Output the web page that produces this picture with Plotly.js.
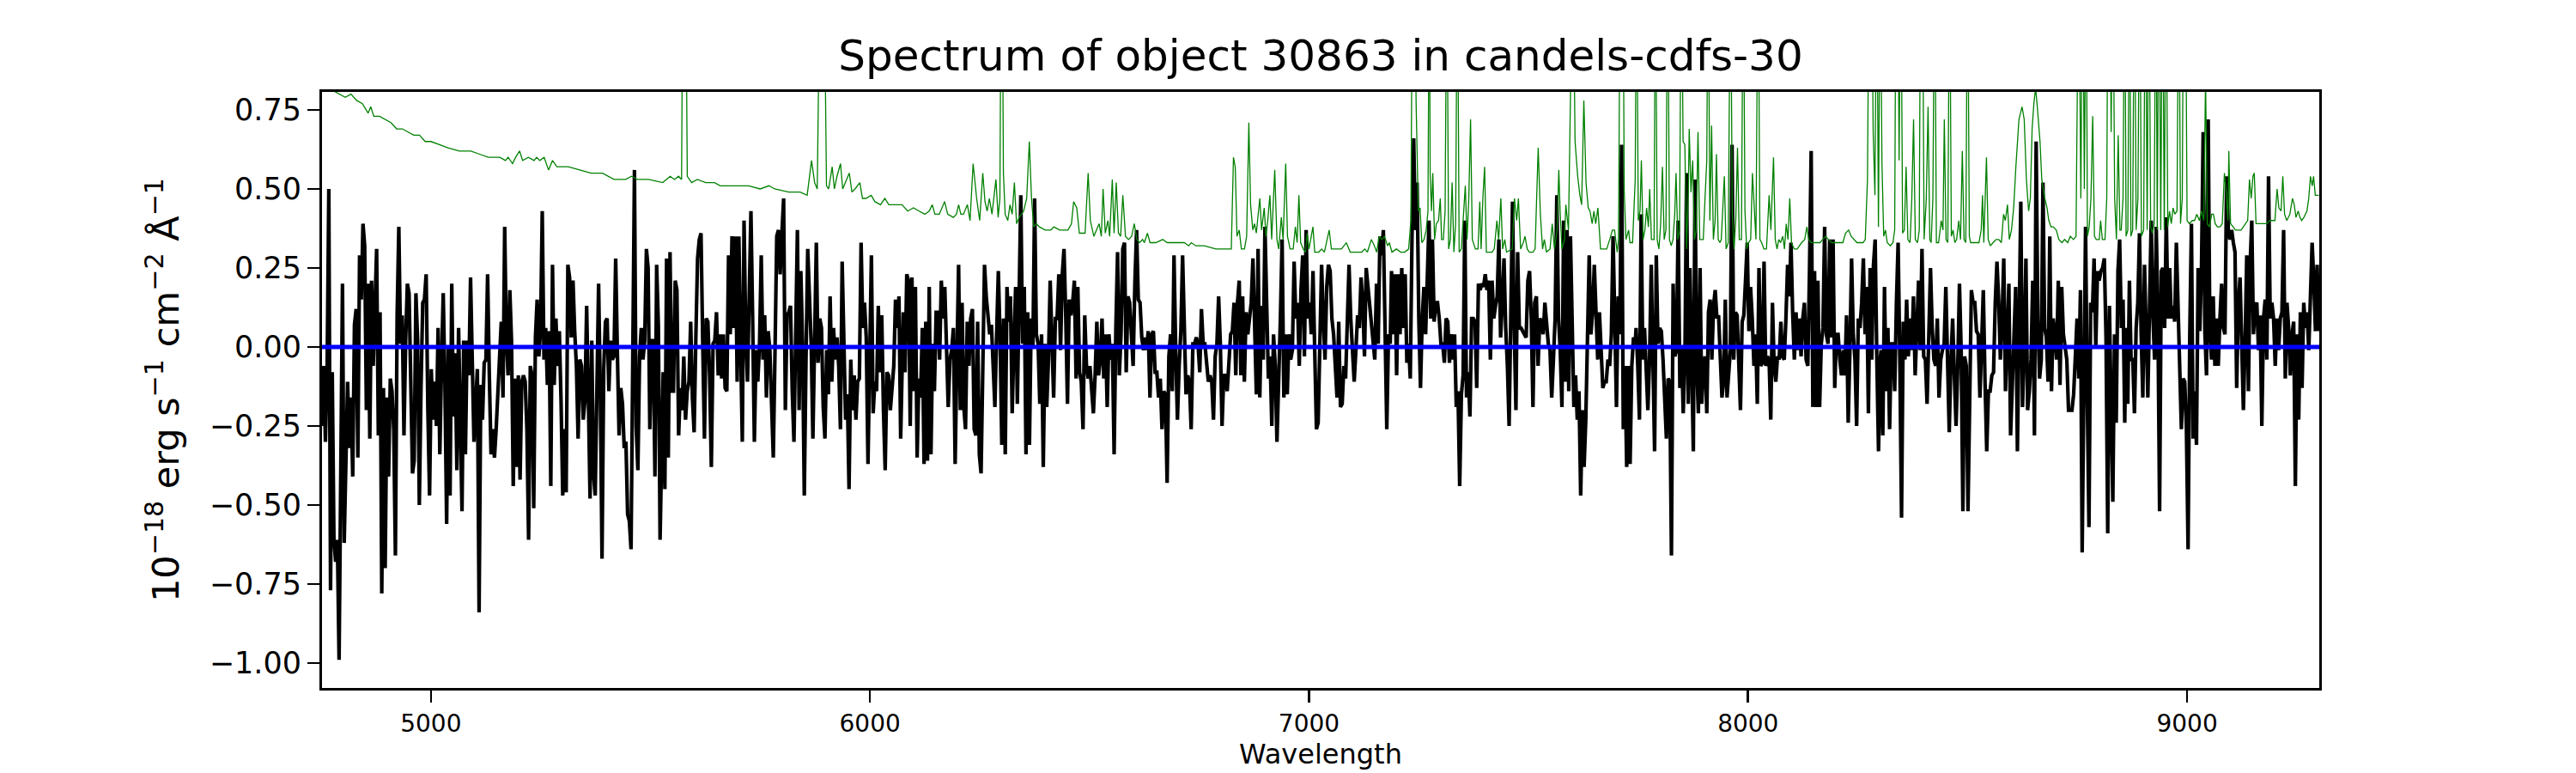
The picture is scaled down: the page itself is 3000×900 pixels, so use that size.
<!DOCTYPE html>
<html><head><meta charset="utf-8">
<script src="https://cdn.plot.ly/plotly-3.0.1.min.js"></script>
<style>html,body{margin:0;padding:0;background:#fff}</style>
</head><body>
<div id="chart" style="width:3000px;height:900px"></div>
<script>
// Flux spectrum (black) in eight wavelength pieces
const fluxSegStart = [4752, 5529, 6076, 6630, 7188, 7745, 8303, 8861];
const fluxSegEnd   = [5522, 6070, 6627, 7185, 7743, 8301, 8858, 9300];

const flux_4752_5522 = [-0.25,-0.06,-0.30,-0.07,0.50,-0.77,-0.08,-0.61,-0.68,-0.61,-0.99,-0.26,0.20,-0.62,-0.28,-0.11,-0.32,-0.16,-0.41,0.07,0.12,-0.35,0.29,0.15,0.39,0.32,-0.20,0.20,-0.29,0.21,-0.06,0.11,0.31,-0.28,0.11,-0.78,-0.13,-0.70,-0.16,-0.41,-0.10,-0.14,-0.26,-0.66,0.10,0.38,0.01,0.10,-0.28,0.02,0.20,0.17,-0.11,-0.40,-0.36,0.17,0.02,-0.50,-0.13,0.14,0.15,0.23,-0.20,-0.47,-0.07,-0.23,-0.11,-0.25,0.06,-0.34,-0.06,0.17,-0.12,-0.56,0.00,-0.47,0.20,-0.22,-0.02,-0.39,0.06,-0.26,-0.52,0.02,-0.34,0.02,-0.09,0.22,-0.11,-0.30,-0.18,-0.07,-0.84,-0.12,-0.23,-0.05,-0.04,0.23,-0.09,-0.34,-0.26,-0.35,-0.26,-0.14,-0.02,0.08,-0.16,0.38,0.02,-0.09,0.18,0.02,-0.44,-0.10,-0.38,-0.09,-0.42,-0.11,-0.09,-0.11,-0.26,-0.61,-0.06,-0.09,-0.51,0.03,0.15,-0.03,0.05,0.43,-0.04,0.06,-0.12,0.05,-0.44,0.26,-0.12,0.09,-0.06,0.05,-0.17,-0.47,-0.26,-0.46,0.26,0.22,0.03,0.21,0.05,-0.06,-0.29,-0.04,-0.06,-0.23,-0.17,0.13,-0.16,-0.48,0.02,-0.40,-0.47,-0.11,0.20,-0.14,-0.67,-0.07,0.08,0.09,-0.14,0.02,-0.04,-0.03,0.28,-0.02,-0.28,-0.13,-0.18,-0.32,-0.30,-0.53,-0.55,-0.64,-0.02,0.56,-0.25,-0.39,-0.03,0.06,-0.04,0.02,0.31,0.25,-0.26,0.02,0.02,-0.41,0.26,0.07,-0.61];

const flux_5529_6070 = [-0.08,-0.45,0.28,-0.35,0.30,-0.14,-0.14,0.21,0.18,-0.28,-0.13,-0.20,-0.03,-0.23,-0.14,-0.11,0.08,-0.16,-0.27,0.03,0.28,0.34,0.36,0.01,-0.29,0.09,0.08,-0.09,-0.38,0.01,0.02,0.11,-0.09,0.04,-0.10,0.04,-0.13,-0.14,0.29,0.04,0.35,0.06,0.35,-0.11,0.35,0.01,-0.30,0.40,0.04,-0.11,0.14,0.43,0.09,-0.30,-0.01,-0.11,0.01,0.29,-0.04,0.10,-0.16,0.05,-0.01,-0.16,-0.35,-0.01,0.35,0.37,0.23,0.36,0.47,-0.20,0.10,0.11,0.13,-0.14,-0.30,0.04,0.37,-0.20,0.24,0.01,-0.47,-0.04,0.31,0.16,0.01,-0.29,0.04,0.33,-0.05,0.09,0.06,-0.19,-0.29,-0.01,-0.15,0.16,-0.11,0.06,-0.04,0.03,-0.06,-0.26,0.27,-0.04,-0.23,-0.15,-0.45,-0.04,-0.20,-0.09,-0.23,-0.11,-0.10,0.33,0.06,0.14,0.03,-0.37,0.04,0.29,-0.21,-0.11,-0.14,0.13,-0.08,0.10,-0.20,-0.39,-0.08,-0.09,-0.20,-0.14,-0.06,0.15,0.06,0.16,-0.29];

const flux_6076_6627 = [0.11,-0.08,0.23,0.21,-0.25,0.22,-0.14,0.19,-0.35,-0.10,-0.16,0.06,-0.37,0.08,-0.36,0.19,-0.34,0.01,-0.14,0.11,0.11,-0.04,0.21,0.09,0.19,-0.01,-0.19,-0.04,-0.01,0.06,-0.37,-0.04,0.26,-0.20,0.14,-0.19,-0.26,0.08,-0.06,0.09,0.12,-0.26,-0.28,0.08,-0.34,-0.40,-0.11,0.26,0.16,0.09,0.04,0.07,-0.04,-0.19,0.04,0.24,0.03,-0.31,0.09,-0.34,0.19,0.08,0.16,-0.21,0.01,0.19,-0.18,0.21,0.48,0.01,0.19,-0.34,0.11,-0.31,0.09,0.00,0.47,0.04,0.01,-0.18,0.04,-0.38,0.01,-0.19,-0.04,0.21,-0.04,-0.16,0.09,0.09,0.23,-0.01,0.23,0.31,0.10,-0.18,0.15,0.10,0.14,0.21,-0.10,0.19,-0.08,-0.11,-0.26,0.10,-0.06,-0.10,-0.06,-0.15,-0.21,-0.09,0.08,-0.09,-0.04,0.09,-0.10,0.04,-0.19,0.04,-0.04,0.01,-0.34,0.06,0.30,-0.09,0.04,0.31,0.33,-0.08,0.16,0.14,0.06,-0.06,0.20,0.37,0.15,0.14,0.03,-0.01,0.03];

const flux_6630_7185 = [-0.01,0.05,-0.16,0.04,0.05,-0.08,-0.08,-0.16,-0.10,-0.26,-0.14,-0.15,-0.43,-0.03,0.04,-0.14,0.29,-0.01,-0.23,-0.06,0.05,0.29,0.05,-0.15,-0.09,-0.11,-0.26,0.01,0.01,0.03,0.01,-0.08,0.12,0.01,0.01,-0.04,-0.11,-0.09,-0.11,-0.23,-0.03,0.01,0.16,0.01,-0.25,-0.09,-0.09,-0.14,-0.04,0.04,0.05,0.14,-0.09,0.14,0.21,-0.09,0.16,-0.11,0.11,0.04,0.09,0.14,0.28,0.06,-0.15,0.31,-0.16,0.13,-0.04,0.38,0.09,-0.10,-0.03,-0.25,0.04,-0.06,-0.30,-0.04,0.09,0.34,-0.16,0.04,-0.15,0.04,-0.04,-0.01,0.27,0.09,0.14,-0.06,0.18,0.29,-0.03,0.37,0.09,0.14,0.04,0.24,0.01,-0.26,-0.24,0.01,0.26,0.09,-0.04,0.19,0.26,0.24,0.09,0.04,-0.04,-0.16,0.08,-0.19,-0.18,-0.06,-0.10,0.06,0.26,0.09,-0.03,-0.11,-0.01,0.10,0.06,0.22,0.14,-0.03,0.25,0.19,0.14,0.10,0.04,-0.04,0.20,0.01,0.35,0.29,0.37,0.09,-0.26,0.04,0.01];

const flux_7188_7743 = [0.24,0.04,0.23,-0.09,0.23,0.04,0.25,0.06,0.23,-0.05,0.01,-0.10,0.34,0.66,0.37,0.52,0.09,-0.13,0.09,0.19,0.04,0.25,0.40,0.09,0.34,0.08,0.14,0.14,0.09,0.01,0.01,-0.05,0.09,0.08,-0.05,0.04,-0.04,0.04,-0.19,-0.14,-0.44,-0.15,-0.09,0.40,-0.16,-0.08,-0.22,0.09,0.09,0.08,-0.13,0.20,0.18,0.20,0.19,0.23,0.18,0.21,-0.04,0.21,0.09,0.13,0.16,0.34,0.03,0.14,0.28,0.06,-0.06,-0.25,0.09,0.46,0.06,-0.20,0.30,0.06,0.06,0.05,0.04,0.03,0.21,0.24,0.09,-0.19,0.14,0.16,-0.06,0.09,0.08,0.04,0.14,0.08,0.01,-0.01,-0.16,-0.04,0.09,0.48,0.09,-0.01,-0.19,0.40,-0.11,0.37,-0.14,0.35,0.00,-0.19,-0.09,-0.23,-0.14,-0.47,-0.20,-0.38,-0.23,0.04,0.29,0.04,0.11,0.26,0.09,-0.04,0.11,-0.01,-0.13,-0.11,-0.11,-0.04,-0.06,0.04,0.35,0.09,-0.19,0.16,0.04,0.64,-0.26,-0.06,-0.38,-0.06,-0.37,-0.06,0.03,0.01];

const flux_7745_8301 = [0.06,-0.06,-0.23,0.42,-0.04,0.06,-0.10,-0.20,-0.04,0.26,-0.04,-0.33,0.29,0.01,0.06,0.05,-0.04,-0.20,-0.29,-0.10,-0.11,-0.66,0.20,-0.03,-0.01,0.40,-0.13,0.00,-0.21,-0.04,0.55,-0.18,0.25,-0.04,-0.33,0.53,-0.06,-0.21,0.25,-0.18,-0.06,-0.03,-0.21,0.11,0.15,-0.04,0.13,0.18,0.09,0.10,-0.04,-0.16,-0.11,0.15,-0.16,-0.06,-0.01,0.64,-0.04,0.11,0.10,-0.05,-0.20,0.08,0.10,0.21,0.33,0.05,0.19,0.09,-0.06,0.04,-0.18,0.25,-0.06,-0.05,0.27,-0.06,-0.03,-0.04,-0.23,0.14,-0.06,-0.11,-0.03,-0.04,0.08,-0.03,-0.04,0.09,0.26,0.16,0.33,0.11,-0.04,0.11,-0.01,0.09,-0.03,0.09,0.14,-0.04,-0.06,0.24,0.62,-0.19,0.24,-0.19,0.21,-0.19,0.01,0.06,0.38,0.04,0.01,0.34,0.03,0.34,-0.13,0.04,0.04,-0.04,-0.09,-0.01,-0.09,0.10,-0.24,-0.01,0.28,0.04,-0.04,-0.25,0.09,0.06,0.14,0.28,0.04,0.19,-0.21,0.25,-0.04,0.26,0.34,-0.04,-0.33,-0.04];

const flux_8303_8858 = [-0.01,-0.28,0.19,-0.14,0.06,-0.26,0.01,0.01,-0.14,0.14,0.33,-0.04,-0.54,0.08,-0.04,0.15,-0.03,0.09,-0.01,0.16,-0.09,0.06,0.21,-0.01,0.31,-0.03,-0.04,-0.18,0.09,0.25,0.06,-0.04,-0.06,0.09,-0.16,-0.04,-0.01,0.01,0.19,-0.08,-0.27,-0.04,0.09,-0.09,-0.25,-0.06,0.20,-0.01,-0.52,-0.03,-0.06,-0.52,-0.06,0.18,0.14,0.14,0.05,0.04,-0.16,0.04,0.18,-0.11,-0.33,-0.14,-0.14,-0.09,-0.08,0.14,0.27,0.15,-0.04,0.09,0.28,-0.14,0.04,0.20,-0.28,-0.14,0.01,0.19,-0.33,0.09,0.46,-0.19,-0.01,0.28,-0.20,-0.14,-0.04,0.21,-0.28,0.65,0.09,-0.10,-0.04,0.52,0.06,0.03,-0.11,0.35,-0.14,0.09,0.04,-0.04,0.21,-0.12,0.19,0.04,-0.01,-0.04,-0.20,-0.20,-0.20,-0.15,-0.04,0.09,-0.10,0.18,-0.65,-0.04,0.38,-0.16,-0.57,0.14,0.11,0.28,0.00,0.24,0.21,0.24,0.25,0.28,0.03,-0.59,0.13,-0.19,-0.49,0.04,-0.24,0.24,0.34,0.06,0.15,-0.24];

const flux_8861_9300 = [0.06,-0.18,0.21,-0.04,-0.04,-0.21,0.06,0.14,0.36,0.04,-0.16,0.26,0.03,-0.16,0.13,0.40,0.10,-0.04,0.38,0.09,-0.52,0.24,0.25,0.06,0.41,0.09,0.25,0.09,0.13,0.08,0.33,0.10,-0.06,-0.26,-0.10,-0.11,-0.26,-0.64,0.04,0.39,-0.29,-0.14,-0.31,0.25,0.05,0.25,0.68,0.05,-0.09,0.72,0.04,-0.04,0.16,-0.06,0.09,-0.06,0.09,0.20,0.06,0.04,0.54,0.37,0.34,0.37,0.33,0.30,-0.13,0.14,0.22,-0.04,-0.20,0.01,0.29,-0.14,0.26,0.40,0.04,0.13,0.14,-0.01,0.10,-0.25,0.09,0.15,-0.04,0.54,0.09,0.14,0.09,-0.06,0.09,-0.01,0.09,0.11,0.37,-0.10,0.14,0.06,-0.09,0.04,0.08,-0.44,0.04,-0.23,0.11,-0.13,0.14,0.06,0.11,-0.01,0.21,0.33,0.21,0.05,0.26,0.05];

const fluxSegments = [flux_4752_5522, flux_5529_6070, flux_6076_6627, flux_6630_7185,
                      flux_7188_7743, flux_7745_8301, flux_8303_8858, flux_8861_9300];

// Noise spectrum (green): [wavelength, value]; 1.3 marks sky lines that run off the top
const noisePoints = [
[4752,0.83],[4778,0.81],[4792,0.80],[4805,0.79],[4818,0.80],[4831,0.78],[4844,0.77],[4857,0.74],[4863,0.76],[4870,0.73],[4883,0.73],[4896,0.72],[4909,0.71],[4922,0.69],[4935,0.69],[4948,0.68],[4961,0.67],[4974,0.67],[4987,0.65],[5000,0.65],[5020,0.64],[5039,0.63],[5065,0.62],[5091,0.62],[5111,0.61],[5131,0.60],[5157,0.60],[5170,0.59],[5176,0.60],[5186,0.58],[5193,0.60],[5202,0.62],[5209,0.59],[5222,0.60],[5235,0.59],[5241,0.60],[5248,0.59],[5258,0.60],[5268,0.56],[5277,0.59],[5287,0.57],[5313,0.57],[5339,0.56],[5365,0.55],[5391,0.55],[5417,0.53],[5444,0.53],[5457,0.54],[5470,0.53],[5496,0.53],
[5528,0.52],[5545,0.54],[5555,0.53],[5564,0.54],[5571,0.53],[5574,1.3],[5580,1.3],[5584,0.54],[5594,0.52],[5607,0.53],[5626,0.52],[5646,0.52],[5659,0.51],[5672,0.51],[5698,0.51],[5724,0.51],[5750,0.50],[5770,0.51],[5783,0.50],[5815,0.49],[5841,0.49],[5857,0.48],[5867,0.59],[5874,0.52],[5880,0.50],[5887,1.3],[5895,1.3],[5901,0.51],[5906,0.50],[5914,0.57],[5919,0.50],[5925,0.54],[5933,0.58],[5938,0.50],[5944,0.52],[5953,0.55],[5959,0.49],[5966,0.50],[5977,0.52],[5983,0.47],[5991,0.47],[6003,0.48],[6011,0.46],[6024,0.45],[6034,0.47],[6043,0.45],[6056,0.45],
[6073,0.45],[6086,0.43],[6099,0.44],[6112,0.43],[6125,0.42],[6135,0.43],[6142,0.45],[6148,0.42],[6158,0.42],[6170,0.46],[6177,0.42],[6190,0.41],[6197,0.42],[6202,0.45],[6207,0.42],[6213,0.42],[6222,0.45],[6228,0.40],[6235,0.58],[6243,0.47],[6250,0.40],[6257,0.55],[6262,0.46],[6267,0.43],[6272,0.47],[6278,0.42],[6287,0.53],[6292,0.41],[6296,0.47],[6299,1.3],[6301,1.3],[6304,0.55],[6308,0.42],[6314,0.40],[6319,0.45],[6324,0.42],[6329,0.52],[6334,0.39],[6340,0.41],[6350,0.43],[6357,0.47],[6363,0.65],[6368,0.47],[6373,0.38],[6379,0.39],[6386,0.38],[6399,0.37],[6412,0.37],[6419,0.38],[6432,0.37],[6445,0.37],[6451,0.37],[6459,0.39],[6464,0.46],[6471,0.44],[6477,0.36],[6490,0.36],[6497,0.55],[6502,0.40],[6510,0.35],[6516,0.37],[6522,0.39],[6527,0.35],[6531,0.50],[6536,0.36],[6542,0.40],[6546,0.35],[6552,0.53],[6556,0.36],[6561,0.52],[6566,0.36],[6571,0.35],[6576,0.48],[6582,0.35],[6589,0.34],[6596,0.35],[6602,0.39],[6608,0.34],[6614,0.33],[6621,0.34],
[6625,0.33],[6632,0.36],[6638,0.33],[6651,0.33],[6667,0.34],[6677,0.33],[6696,0.33],[6701,0.33],[6716,0.33],[6726,0.32],[6732,0.33],[6742,0.32],[6761,0.32],[6788,0.31],[6814,0.31],[6823,0.31],[6828,0.60],[6832,0.57],[6836,0.35],[6841,0.37],[6846,0.31],[6853,0.31],[6858,0.35],[6863,0.71],[6867,0.45],[6872,0.37],[6876,0.39],[6880,0.36],[6888,0.47],[6892,0.37],[6898,0.44],[6902,0.35],[6906,0.40],[6911,0.48],[6915,0.34],[6922,0.56],[6927,0.34],[6931,0.31],[6937,0.41],[6941,0.34],[6947,0.58],[6951,0.35],[6957,0.31],[6964,0.31],[6969,0.38],[6973,0.33],[6977,0.48],[6981,0.33],[6987,0.31],[6992,0.30],[6996,0.36],[7000,0.31],[7009,0.38],[7013,0.30],[7022,0.30],[7029,0.31],[7035,0.30],[7046,0.37],[7051,0.31],[7061,0.31],[7074,0.31],[7085,0.33],[7094,0.30],[7114,0.30],[7120,0.30],[7127,0.31],[7133,0.30],[7142,0.34],[7149,0.32],[7154,0.30],[7160,0.35],[7166,0.34],[7172,0.35],[7179,0.32],
[7183,0.33],[7189,0.30],[7199,0.31],[7209,0.30],[7218,0.30],[7227,0.31],[7232,0.40],[7236,1.3],[7240,1.3],[7244,0.77],[7249,0.43],[7253,0.44],[7257,0.33],[7262,0.34],[7267,0.37],[7271,0.43],[7274,1.3],[7276,0.55],[7279,0.43],[7282,0.55],[7286,0.34],[7290,0.39],[7295,0.40],[7299,0.47],[7302,0.34],[7306,0.34],[7310,0.43],[7314,1.3],[7318,0.31],[7322,0.34],[7326,0.52],[7330,0.30],[7334,0.39],[7338,1.3],[7342,0.30],[7347,0.31],[7351,0.40],[7356,0.51],[7360,0.34],[7364,0.47],[7368,0.72],[7372,0.34],[7379,0.31],[7385,0.31],[7389,0.46],[7392,0.31],[7396,0.47],[7400,0.57],[7404,0.30],[7417,0.30],[7422,0.31],[7428,0.40],[7432,0.34],[7437,0.47],[7441,0.31],[7446,0.34],[7450,0.30],[7463,0.31],[7468,0.47],[7473,0.40],[7477,0.47],[7482,0.31],[7488,0.33],[7492,0.35],[7497,0.31],[7502,0.30],[7510,0.30],[7515,0.31],[7522,0.63],[7527,0.42],[7532,0.31],[7536,0.34],[7541,0.30],[7549,0.31],[7554,0.39],[7559,0.31],[7565,0.37],[7569,0.56],[7572,0.43],[7576,0.31],[7582,0.34],[7585,0.45],[7591,0.37],[7596,1.3],[7601,1.3],[7606,0.65],[7612,0.54],[7617,0.48],[7621,0.45],[7626,0.78],[7631,0.52],[7636,0.44],[7640,0.43],[7645,0.39],[7649,0.43],[7653,0.39],[7658,0.44],[7664,0.31],[7671,0.31],[7678,0.31],[7685,0.34],[7691,0.37],[7696,0.37],[7702,0.30],[7705,0.34],[7709,1.3],[7715,1.3],[7718,0.49],[7722,0.34],[7728,0.37],[7731,0.33],[7737,0.33],
[7743,0.53],[7746,1.3],[7750,0.40],[7754,0.43],[7757,0.59],[7761,0.34],[7765,0.37],[7769,0.44],[7773,0.38],[7776,0.50],[7780,0.34],[7786,0.34],[7789,1.3],[7793,0.34],[7797,0.31],[7801,0.39],[7805,0.57],[7809,0.34],[7813,0.37],[7817,1.3],[7821,0.34],[7825,0.32],[7829,0.34],[7833,0.42],[7836,0.55],[7840,0.34],[7844,0.37],[7848,1.3],[7852,0.65],[7856,0.64],[7860,0.31],[7864,0.49],[7866,0.69],[7870,0.49],[7874,0.59],[7878,0.34],[7882,0.37],[7886,0.68],[7890,0.34],[7894,0.34],[7898,0.34],[7902,0.47],[7906,0.59],[7909,1.3],[7913,0.40],[7917,0.70],[7921,0.34],[7925,0.40],[7928,0.61],[7932,0.34],[7936,0.33],[7939,0.34],[7943,0.47],[7946,0.54],[7950,0.31],[7955,0.33],[7960,1.3],[7964,0.43],[7968,0.31],[7972,0.40],[7976,0.63],[7980,0.34],[7985,0.34],[7989,1.3],[7993,0.43],[7997,0.31],[8001,0.33],[8006,0.34],[8010,0.55],[8014,0.43],[8018,0.34],[8023,1.3],[8027,0.34],[8031,0.33],[8036,0.31],[8042,0.31],[8048,0.48],[8052,0.37],[8058,0.60],[8062,0.34],[8066,0.31],[8070,0.34],[8074,0.33],[8079,0.35],[8083,0.31],[8087,0.39],[8091,0.34],[8095,0.47],[8099,0.33],[8105,0.31],[8112,0.31],[8122,0.33],[8129,0.34],[8134,0.38],[8138,0.34],[8144,0.33],[8151,0.33],[8157,0.33],[8164,0.33],[8170,0.34],[8177,0.35],[8183,0.34],[8190,0.33],[8196,0.33],[8203,0.33],[8216,0.33],[8222,0.36],[8229,0.37],[8235,0.35],[8242,0.34],[8248,0.33],[8255,0.33],[8262,0.33],[8267,0.34],[8272,0.53],[8276,1.3],[8281,1.3],[8285,0.68],[8289,0.48],[8293,1.3],[8297,0.38],
[8301,1.3],[8305,0.58],[8309,0.35],[8313,0.37],[8317,0.33],[8324,0.32],[8330,0.33],[8334,0.37],[8337,1.3],[8341,1.3],[8344,0.59],[8348,1.3],[8352,0.36],[8356,0.37],[8360,0.57],[8364,0.34],[8369,0.33],[8373,0.47],[8377,0.72],[8381,0.34],[8386,0.33],[8390,0.37],[8393,1.3],[8397,1.3],[8401,0.34],[8406,0.47],[8410,0.76],[8414,0.34],[8417,0.33],[8421,0.47],[8425,1.3],[8429,0.33],[8434,0.33],[8440,0.40],[8444,0.37],[8447,0.72],[8451,0.34],[8455,0.33],[8459,1.3],[8463,0.35],[8467,0.37],[8471,0.33],[8475,0.34],[8480,0.40],[8484,0.34],[8488,0.62],[8492,0.34],[8496,0.33],[8500,1.3],[8504,0.35],[8507,0.33],[8513,0.33],[8517,0.33],[8521,0.33],[8526,0.33],[8531,0.37],[8534,0.48],[8537,0.33],[8543,0.60],[8547,0.34],[8552,0.32],[8558,0.33],[8565,0.34],[8571,0.34],[8577,0.33],[8582,0.42],[8586,0.40],[8591,0.45],[8595,0.34],[8600,0.37],[8605,0.44],[8610,0.57],[8617,0.72],[8624,0.76],[8629,0.72],[8634,0.53],[8639,0.43],[8643,0.47],[8647,0.69],[8651,0.77],[8655,0.82],[8660,0.74],[8665,0.65],[8669,0.53],[8676,0.47],[8681,0.44],[8685,0.40],[8690,0.38],[8695,0.38],[8702,0.37],[8708,0.34],[8715,0.33],[8721,0.34],[8728,0.33],[8734,0.35],[8741,0.34],[8747,0.35],[8753,1.3],[8758,0.47],[8762,1.3],[8766,0.50],[8770,1.3],[8773,0.35],[8777,0.38],[8781,0.47],[8785,0.73],[8789,0.35],[8793,0.34],[8800,0.34],[8803,0.40],[8807,0.34],[8813,0.34],[8817,0.47],[8820,1.3],[8824,1.3],[8827,0.68],[8831,1.3],[8835,0.47],[8839,0.34],[8843,0.67],[8847,0.37],[8850,0.37],[8854,0.47],[8858,1.3],
[8861,0.35],[8865,0.37],[8869,1.3],[8872,0.35],[8876,0.37],[8880,1.3],[8884,0.37],[8888,0.47],[8892,1.3],[8896,0.35],[8901,0.37],[8905,1.3],[8909,0.37],[8913,1.3],[8917,0.38],[8921,0.36],[8925,0.39],[8929,1.3],[8932,0.37],[8936,1.3],[8940,0.37],[8944,1.3],[8948,0.37],[8952,1.3],[8956,0.38],[8960,0.43],[8964,0.39],[8968,0.44],[8972,0.42],[8977,0.43],[8981,1.3],[8985,0.39],[8989,0.47],[8992,1.3],[8996,1.3],[9000,0.40],[9005,0.39],[9012,0.40],[9017,0.40],[9022,0.42],[9028,0.40],[9033,0.43],[9038,0.40],[9042,0.85],[9046,0.39],[9051,0.38],[9056,0.42],[9060,0.42],[9064,0.39],[9069,0.38],[9075,0.38],[9080,0.39],[9085,0.55],[9089,0.49],[9093,0.40],[9095,0.62],[9099,0.39],[9105,0.38],[9110,0.37],[9116,0.37],[9123,0.37],[9128,0.38],[9133,0.39],[9138,0.40],[9142,0.53],[9146,0.47],[9150,0.54],[9153,0.55],[9157,0.39],[9162,0.39],[9168,0.39],[9175,0.39],[9182,0.39],[9188,0.40],[9195,0.40],[9200,0.40],[9205,0.50],[9209,0.44],[9214,0.43],[9218,0.54],[9222,0.42],[9227,0.40],[9234,0.42],[9240,0.47],[9244,0.45],[9248,0.41],[9253,0.43],[9257,0.41],[9261,0.40],[9266,0.41],[9273,0.43],[9277,0.47],[9281,0.54],[9285,0.51],[9288,0.54],[9292,0.48],[9300,0.48]
];

// Zero level (blue)
const zeroWave = [4752, 9301];
const zeroFlux = [0, 0];

const xTickVals = [5000, 6000, 7000, 8000, 9000];
const yTickVals = [-1.00, -0.75, -0.50, -0.25, 0.00, 0.25, 0.50, 0.75];

// Build the flux trace from the segments (each piece on its own even wavelength grid)
const fluxWave = [], fluxVal = [];
fluxSegments.forEach((seg, k) => {
  const a = fluxSegStart[k], b = fluxSegEnd[k];
  const n = seg.length;
  seg.forEach((v, i) => {
    fluxWave.push(n > 1 ? a + (b - a) * i / (n - 1) : a);
    fluxVal.push(v);
  });
});
const noiseWave = noisePoints.map(p => p[0]);
const noiseVal = noisePoints.map(p => p[1]);

const FONT = 'DejaVu Sans, Liberation Sans, sans-serif';

const traces = [
  {x: fluxWave, y: fluxVal, type: 'scatter', mode: 'lines',
   line: {color: '#000000', width: 4.2}, hoverinfo: 'skip', showlegend: false},
  {x: noiseWave, y: noiseVal, type: 'scatter', mode: 'lines',
   line: {color: '#008000', width: 1.3}, hoverinfo: 'skip', showlegend: false},
  {x: zeroWave, y: zeroFlux, type: 'scatter', mode: 'lines',
   line: {color: '#0000ff', width: 5}, hoverinfo: 'skip', showlegend: false}
];

const layout = {
  width: 3000, height: 900,
  paper_bgcolor: '#ffffff', plot_bgcolor: '#ffffff',
  margin: {l: 375, r: 299, t: 107, b: 99, pad: 0},
  font: {family: FONT, color: '#000000', size: 28},
  showlegend: false,
  title: {text: 'Spectrum of object 30863 in candels-cdfs-30',
          font: {family: FONT, size: 50, color: '#000000'},
          xref: 'paper', x: 0.5, xanchor: 'center',
          yref: 'container', y: 1 - 64/900, yanchor: 'middle'},
  xaxis: {
    range: [4752, 9301], autorange: false,
    tickmode: 'array', tickvals: xTickVals, tickformat: 'd',
    ticks: 'outside', ticklen: 14, tickwidth: 2.6, tickcolor: '#000',
    tickfont: {family: FONT, size: 28, color: '#000'},
    showline: true, linecolor: '#000', linewidth: 3, mirror: true,
    showgrid: false, zeroline: false,
    title: {text: 'Wavelength', font: {family: FONT, size: 32, color: '#000'}, standoff: 6},
    automargin: false
  },
  yaxis: {
    range: [-1.079, 0.807], autorange: false,
    tickmode: 'array', tickvals: yTickVals, tickformat: '.2f',
    ticks: 'outside', ticklen: 14, tickwidth: 2.6, tickcolor: '#000',
    tickfont: {family: FONT, size: 35, color: '#000'},
    showline: true, linecolor: '#000', linewidth: 3, mirror: true,
    showgrid: false, zeroline: false,
    title: {text: '10<sup>−18</sup> erg s<sup>−1</sup> cm<sup>−2</sup> Å<sup>−1</sup>',
            font: {family: FONT, size: 43, color: '#000'}, standoff: 22},
    automargin: false
  }
};

Plotly.newPlot('chart', traces, layout, {staticPlot: true, displayModeBar: false});
</script>
</body></html>
